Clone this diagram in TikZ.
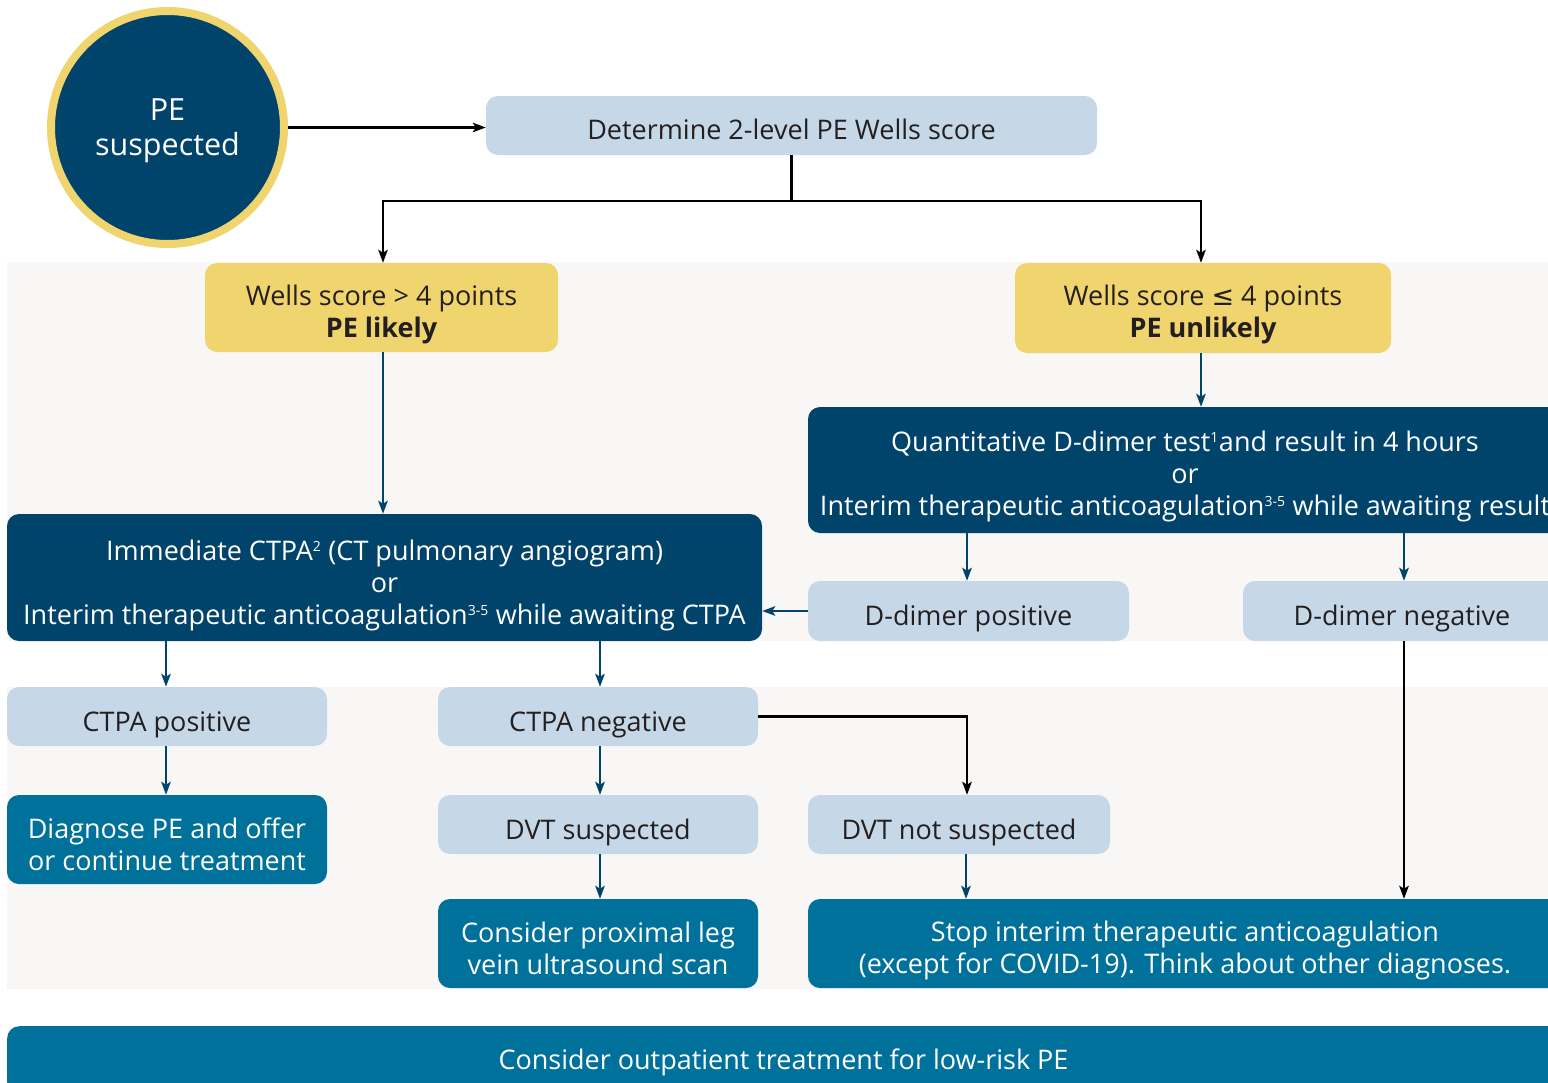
\documentclass[tikz,border=0pt]{standalone}
\usepackage{fontspec}
\setmainfont{Open Sans}
\newfontfamily\symfont{DejaVu Sans}
\usetikzlibrary{arrows.meta,calc}
\definecolor{navy}{HTML}{00436B}
\definecolor{teal}{HTML}{00719A}
\definecolor{lblue}{HTML}{C6D8E8}
\definecolor{wyellow}{HTML}{F0D46E}
\definecolor{band}{HTML}{F8F7F5}
\definecolor{ink}{HTML}{231F20}
\tikzset{
  base/.style={rounded corners=12pt, align=center, inner sep=0pt, text depth=0pt, font=\fontsize{27}{32}\selectfont},
  lightbox/.style={base, fill=lblue, text=ink},
  yellowbox/.style={base, fill=wyellow, text=ink},
  navybox/.style={base, fill=navy, text=white},
  tealbox/.style={base, fill=teal, text=white},
  blk/.style={draw=black, line width=2.2pt, -{Stealth[length=13pt,width=9.5pt,inset=3pt]}},
  nav/.style={draw=navy, line width=2.2pt, -{Stealth[length=13pt,width=9.5pt,inset=3pt]}},
}
\newcommand{\sups}[1]{\textsuperscript{\fontsize{14}{14}\selectfont #1}}
\newcommand{\tallstrut}{\rule{0pt}{27pt}}
\newcommand{\tallerstrut}{\rule{0pt}{29.5pt}}
\begin{document}
\begin{tikzpicture}[x=1pt,y=-1pt]
\useasboundingbox (0,0) rectangle (1548,1082);
\clip (0,0) rectangle (1548,1082);
\fill[white] (0,0) rectangle (1548,1082);
\fill[band] (7,262) rectangle (1570,641);
\fill[band] (7,687) rectangle (1570,989);

\node[circle, fill=navy, draw=wyellow, line width=8pt, minimum size=233pt, text=white, align=center, inner sep=0pt, text depth=0pt, font=\fontsize{30.5}{35}\selectfont] (circ) at (167.5,127.5) {PE\\suspected};

\node[lightbox, minimum width=611pt, minimum height=59pt] (det) at (791.5,125.5) {\tallstrut Determine 2-level PE Wells score};
\node[yellowbox, minimum width=353pt, minimum height=89pt] (w1) at (381.5,307.5) {\tallstrut Wells score > 4 points\\\textbf{PE likely}};
\node[yellowbox, minimum width=376pt, minimum height=90pt] (w2) at (1203,308) {\tallstrut Wells score {\symfont ≤} 4 points\\\textbf{PE unlikely}};
\node[navybox, minimum width=754pt, minimum height=126pt] (qd) at (1185,470) {\tallstrut Quantitative D-dimer test\sups{1}and result in 4 hours\\or\\Interim therapeutic anticoagulation\sups{3-5} while awaiting result};
\node[navybox, minimum width=755pt, minimum height=127pt] (ic) at (384.5,577.5) {\tallerstrut Immediate CTPA\sups{2} (CT pulmonary angiogram)\\or\\Interim therapeutic anticoagulation\sups{3-5} while awaiting CTPA};
\node[lightbox, minimum width=321pt, minimum height=60pt] (dpos) at (968.5,611) {\tallerstrut D-dimer positive};
\node[lightbox, minimum width=318pt, minimum height=60pt] (dneg) at (1402,611) {\tallerstrut D-dimer negative};
\node[lightbox, minimum width=320pt, minimum height=59pt] (cpos) at (167,716.5) {\tallerstrut CTPA positive};
\node[lightbox, minimum width=320pt, minimum height=59pt] (cneg) at (598,716.5) {\tallerstrut CTPA negative};
\node[tealbox, minimum width=320pt, minimum height=89pt] (diag) at (167,839.5) {\tallerstrut Diagnose PE and offer\\or continue treatment};
\node[lightbox, minimum width=320pt, minimum height=59pt] (dvts) at (598,824.5) {\tallerstrut DVT suspected};
\node[lightbox, minimum width=302pt, minimum height=59pt] (dvtn) at (959,824.5) {\tallerstrut DVT not suspected};
\node[tealbox, minimum width=320pt, minimum height=89pt] (cons) at (598,943.5) {\tallerstrut Consider proximal leg\\vein ultrasound scan};
\node[tealbox, minimum width=754pt, minimum height=89pt] (stop) at (1185,943.5) {\tallstrut Stop interim therapeutic anticoagulation\\(except for COVID-19). Think about other diagnoses.};
\node[tealbox, minimum width=1553pt, minimum height=68pt, anchor=north west] (out) at (7,1026) {};
\node[font=\fontsize{27}{32}\selectfont, text=white, inner sep=0pt] (outt) at (783.5,1062) {Consider outpatient treatment for low-risk PE};

\draw[blk] (circ.east) -- (circ.east -| det.west);
\draw[blk] (det.south) -- ++(0,46) coordinate (split) -| ([xshift=1.5pt]w1.north);
\draw[blk] (split) -| ([xshift=-2pt]w2.north);
\draw[nav] ([xshift=1.5pt]w1.south) -- ([xshift=1.5pt]w1.south |- ic.north);
\draw[nav] ([xshift=-2pt]w2.south) -- ([xshift=-2pt]w2.south |- qd.north);
\draw[nav] ([xshift=-1.5pt]dpos.north |- qd.south) -- ([xshift=-1.5pt]dpos.north);
\draw[nav] ([xshift=2pt]dneg.north |- qd.south) -- ([xshift=2pt]dneg.north);
\draw[nav] (dpos.west) -- (dpos.west -| ic.east);
\draw[nav] ([xshift=-1pt]cpos.north |- ic.south) -- ([xshift=-1pt]cpos.north);
\draw[nav] ([xshift=2pt]cneg.north |- ic.south) -- ([xshift=2pt]cneg.north);
\draw[nav] ([xshift=-1pt]cpos.south) -- ([xshift=-1pt]cpos.south |- diag.north);
\draw[nav] ([xshift=2pt]cneg.south) -- ([xshift=2pt]cneg.south |- dvts.north);
\draw[blk] (cneg.east) -| ([xshift=8pt]dvtn.north);
\draw[nav] ([xshift=2pt]dvts.south) -- ([xshift=2pt]dvts.south |- cons.north);
\draw[nav] ([xshift=7pt]dvtn.south) -- ([xshift=7pt]dvtn.south |- stop.north);
\draw[blk] ([xshift=2pt]dneg.south) -- ([xshift=2pt]dneg.south |- stop.north);
\end{tikzpicture}
\end{document}
